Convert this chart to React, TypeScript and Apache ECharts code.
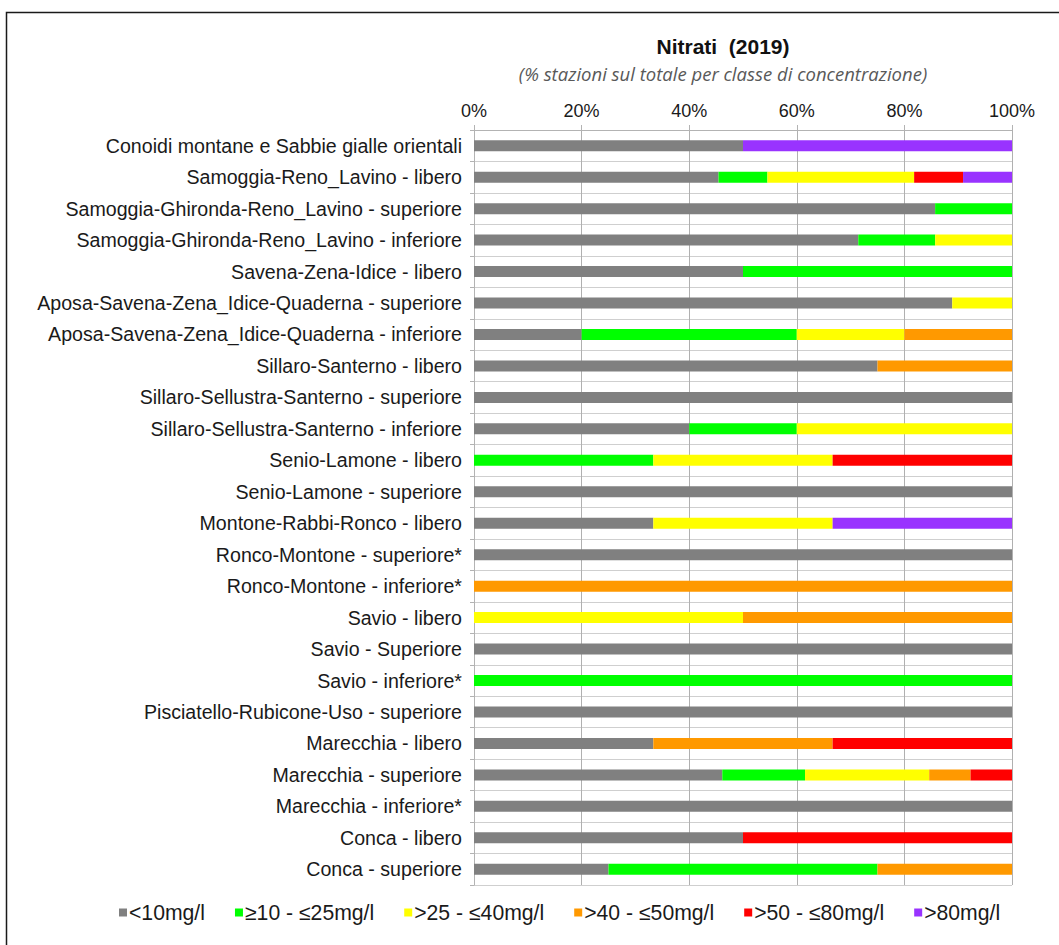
import React, { useEffect, useRef } from "react";
import * as echarts from "echarts";

const categories = [
  "Conoidi montane e Sabbie gialle orientali",
  "Samoggia-Reno_Lavino - libero",
  "Samoggia-Ghironda-Reno_Lavino - superiore",
  "Samoggia-Ghironda-Reno_Lavino - inferiore",
  "Savena-Zena-Idice - libero",
  "Aposa-Savena-Zena_Idice-Quaderna - superiore",
  "Aposa-Savena-Zena_Idice-Quaderna - inferiore",
  "Sillaro-Santerno - libero",
  "Sillaro-Sellustra-Santerno - superiore",
  "Sillaro-Sellustra-Santerno - inferiore",
  "Senio-Lamone - libero",
  "Senio-Lamone - superiore",
  "Montone-Rabbi-Ronco - libero",
  "Ronco-Montone - superiore*",
  "Ronco-Montone - inferiore*",
  "Savio - libero",
  "Savio - Superiore",
  "Savio - inferiore*",
  "Pisciatello-Rubicone-Uso - superiore",
  "Marecchia - libero",
  "Marecchia - superiore",
  "Marecchia - inferiore*",
  "Conca - libero",
  "Conca - superiore",
];

const seriesNames = ["<10mg/l", "≥10 - ≤25mg/l", ">25 - ≤40mg/l", ">40 - ≤50mg/l", ">50 - ≤80mg/l", ">80mg/l"];

const lt10 = [50, 45.45, 85.71, 71.43, 50, 88.89, 20, 75, 100, 40, 0, 100, 33.33, 100, 0, 0, 100, 0, 100, 33.33, 46.15, 100, 50, 25];
const from10to25 = [0, 9.09, 14.29, 14.29, 50, 0, 40, 0, 0, 20, 33.33, 0, 0, 0, 0, 0, 0, 100, 0, 0, 15.38, 0, 0, 50];
const from25to40 = [0, 27.27, 0, 14.28, 0, 11.11, 20, 0, 0, 40, 33.33, 0, 33.33, 0, 0, 50, 0, 0, 0, 0, 23.08, 0, 0, 0];
const from40to50 = [0, 0, 0, 0, 0, 0, 20, 25, 0, 0, 0, 0, 0, 0, 100, 50, 0, 0, 0, 33.33, 7.69, 0, 0, 25];
const from50to80 = [0, 9.09, 0, 0, 0, 0, 0, 0, 0, 0, 33.34, 0, 0, 0, 0, 0, 0, 0, 0, 33.34, 7.7, 0, 50, 0];
const gt80 = [50, 9.1, 0, 0, 0, 0, 0, 0, 0, 0, 0, 0, 33.34, 0, 0, 0, 0, 0, 0, 0, 0, 0, 0, 0];

const seriesData = [lt10, from10to25, from25to40, from40to50, from50to80, gt80];
const colors = ["#808080", "#00ff00", "#ffff00", "#ff9900", "#ff0000", "#9933ff"];

const xTicks = [0, 20, 40, 60, 80, 100];

export default function App() {
  const ref = useRef<HTMLDivElement>(null);
  useEffect(() => {
    if (!ref.current) return;
    const chart = echarts.init(ref.current, null, { renderer: "svg" });
    const font = "'Liberation Sans', Arial, sans-serif";
    chart.setOption({
      animation: false,
      backgroundColor: "#ffffff",
      color: colors,
      grid: { left: 474, right: 47, top: 130, bottom: 60, containLabel: false },
      xAxis: {
        type: "value",
        position: "top",
        min: xTicks[0],
        max: xTicks[xTicks.length - 1],
        interval: 20,
        axisLabel: {
          formatter: "{value}%",
          fontFamily: font,
          fontSize: 18,
          color: "#1a1a1a",
          margin: 10,
        },
        axisLine: { show: true, lineStyle: { color: "#b3b3b3", width: 1 } },
        axisTick: { show: true, length: 5, lineStyle: { color: "#b3b3b3" } },
        splitLine: { show: true, lineStyle: { color: "#b0b0b0", width: 1 } },
      },
      yAxis: {
        type: "category",
        inverse: true,
        data: categories,
        axisLabel: {
          interval: 0,
          fontFamily: font,
          fontSize: 19.6,
          color: "#1a1a1a",
          margin: 12,
        },
        axisLine: { show: true, lineStyle: { color: "#b3b3b3" } },
        axisTick: { show: true, interval: 0, length: 4, lineStyle: { color: "#b3b3b3" } },
        splitLine: { show: true, interval: 0, lineStyle: { color: "#cfcfcf", width: 1 } },
      },
      legend: {
        bottom: 17,
        left: 114,
        icon: "rect",
        itemWidth: 8,
        itemHeight: 8,
        itemGap: 30,
        textStyle: { fontFamily: font, fontSize: 21.2, color: "#1a1a1a", padding: [0, 0, 0, -3] },
        data: seriesNames,
      },
      series: seriesData.map((d, i) => ({
        name: seriesNames[i],
        type: "bar",
        stack: "total",
        barWidth: 11,
        data: d,
        itemStyle: { color: colors[i] },
      })),
      graphic: [
        {
          type: "rect",
          shape: { x: 6.5, y: 12.5, width: 1200, height: 1200 },
          style: { fill: "none", stroke: "#1a1a1a", lineWidth: 1.5 },
          silent: true,
        },
        {
          type: "text",
          x: 723,
          y: 46,
          style: {
            text: "Nitrati  (2019)",
            fontFamily: font,
            fontWeight: "bold",
            fontSize: 21,
            fill: "#111",
            align: "center",
            verticalAlign: "middle",
          },
        },
        {
          type: "text",
          x: 723,
          y: 73,
          style: {
            text: "(% stazioni sul totale per classe di concentrazione)",
            fontFamily: "'Open Sans', sans-serif",
            fontStyle: "italic",
            fontSize: 18.5,
            fill: "#595959",
            align: "center",
            verticalAlign: "middle",
          },
        },
      ],
    });
    return () => chart.dispose();
  }, []);
  return (
    <div
      ref={ref}
      style={{ position: "absolute", left: 0, top: 0, width: 1059, height: 945, background: "#fff" }}
    />
  );
}
